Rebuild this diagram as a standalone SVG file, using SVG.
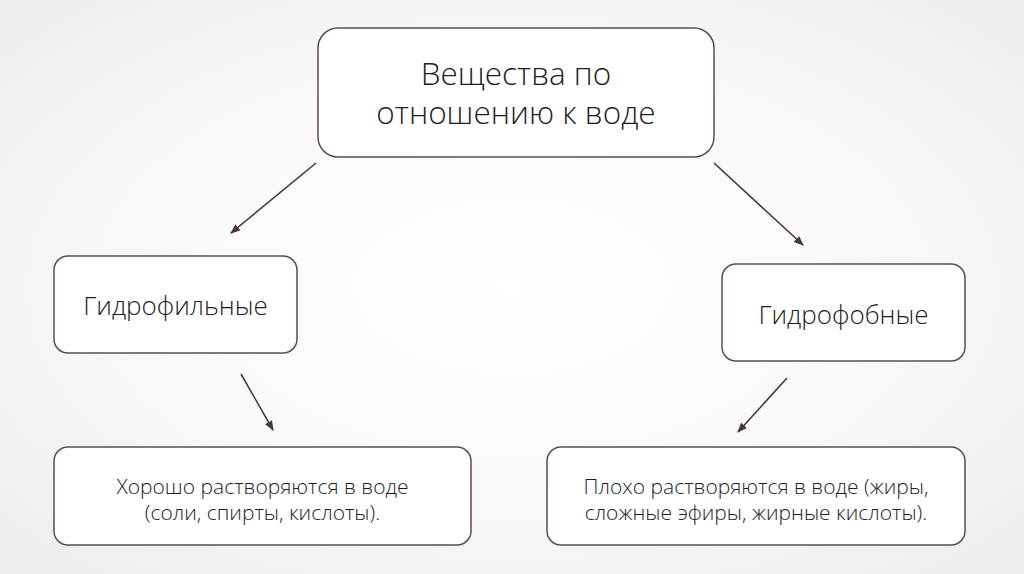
<svg xmlns="http://www.w3.org/2000/svg" width="1024" height="574" viewBox="0 0 1024 574">
<defs>
<radialGradient id="bg" cx="50%" cy="50%" r="65%">
<stop offset="0" stop-color="#ffffff"/>
<stop offset="0.6" stop-color="#f8f8f8"/>
<stop offset="1" stop-color="#eeeeee"/>
</radialGradient>
<marker id="ah" markerWidth="10" markerHeight="8" refX="9" refY="4" orient="auto" markerUnits="userSpaceOnUse">
<path d="M0,0 L10,4 L0,8 Z" fill="#4a3342"/>
</marker>
<style>
.box{fill:#ffffff;stroke:#5e4b57;stroke-width:1.5}
.t{font-family:"Open Sans","Segoe UI","Liberation Sans",sans-serif;font-weight:300;fill:#1e1e1e;text-anchor:middle}
.c{stroke:#4a3342;stroke-width:1.6;fill:none;marker-end:url(#ah)}
</style>
</defs>
<rect width="1024" height="574" fill="url(#bg)"/>
<g id="connectors">
<line class="c" x1="316" y1="163" x2="231" y2="233"/>
<line class="c" x1="714" y1="163" x2="803" y2="245"/>
<line class="c" x1="241" y1="374" x2="273" y2="430"/>
<line class="c" x1="787" y1="378" x2="738" y2="432"/>
</g>
<g id="top">
<rect class="box" x="318" y="28" width="396" height="129" rx="20"/>
<text class="t" font-size="31.5" x="516" y="85">Вещества по</text>
<text class="t" font-size="31.5" x="516" y="124">отношению к воде</text>
</g>
<g id="hydrophilic">
<rect class="box" x="54" y="256" width="243" height="97" rx="14"/>
<text class="t" font-size="26" x="175.5" y="315">Гидрофильные</text>
</g>
<g id="hydrophobic">
<rect class="box" x="722" y="264" width="243" height="97" rx="14"/>
<text class="t" font-size="26" x="843.5" y="324">Гидрофобные</text>
</g>
<g id="good">
<rect class="box" x="54" y="447" width="417" height="98" rx="14"/>
<text class="t" font-size="21" x="262.5" y="494">Хорошо растворяются в воде</text>
<text class="t" font-size="21" x="262.5" y="520">(соли, спирты, кислоты).</text>
</g>
<g id="poor">
<rect class="box" x="547" y="447" width="418" height="98" rx="14"/>
<text class="t" font-size="21" x="756" y="494">Плохо растворяются в воде (жиры,</text>
<text class="t" font-size="21" x="756" y="520">сложные эфиры, жирные кислоты).</text>
</g>
</svg>
